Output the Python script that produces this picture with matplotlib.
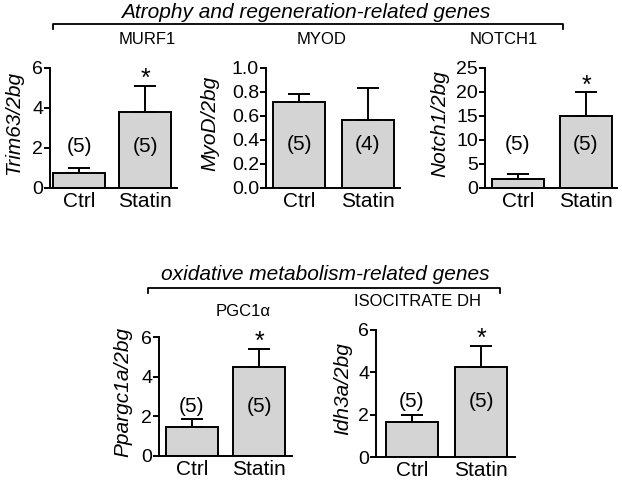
import matplotlib
matplotlib.use("Agg")
import matplotlib.pyplot as plt
from matplotlib.lines import Line2D

plt.rcParams['font.family'] = ['Liberation Sans', 'DejaVu Sans']

groups = ["Ctrl", "Statin"]
genes = ["MURF1", "MYOD", "NOTCH1", "PGC1\u03b1", "ISOCITRATE DH"]
ylabels = ["Trim63/2bg", "MyoD/2bg", "Notch1/2bg", "Ppargc1a/2bg", "Idh3a/2bg"]
ctrl_mean = [0.77, 0.72, 1.8, 1.45, 1.66]
ctrl_sem = [0.21, 0.067, 1.2, 0.42, 0.34]
statin_mean = [3.82, 0.57, 15.1, 4.51, 4.24]
statin_sem = [1.28, 0.26, 4.8, 0.89, 1.02]
ctrl_n = [5, 5, 5, 5, 5]
statin_n = [5, 4, 5, 5, 5]
signif = [False, False, False, False, False]
signif = [True, False, True, True, True]
ymax = [6, 1.0, 25, 6, 6]
ystep = [2, 0.2, 5, 2, 2]
group_titles = ["Atrophy and regeneration-related genes",
                "oxidative metabolism-related genes"]

W, H = 622, 484
# axis left x, axis right x, top y, bottom y, ctrl centre, statin centre (pixels)
boxes = [
    (50, 177, 68, 188, 79, 145),
    (266, 400, 68, 188, 299, 368),
    (485, 617, 68, 188, 518, 586),
    (159, 292, 337, 456, 192, 259),
    (376, 515, 330, 457, 412, 481),
]
ylab_x = [14, 210, 440, 123, 343]
n_y = [2.05, 0.36, 9.0, 2.5, 2.6]   # height of the (n) labels, data units
gene_pos = [(147, 40), (322, 40), (504, 40), (243, 312), (417, 301)]
# text x, text y, bracket x0, x1, bracket y
brackets = [(306, 13, 53, 563, 24), (325, 275, 148, 500, 288)]

fig = plt.figure(figsize=(W / 100, H / 100), dpi=100)

for i in range(5):
    x0, x1, yt, yb, c0, c1 = boxes[i]
    ax = fig.add_axes([x0 / W, 1 - yb / H, (x1 - x0) / W, (yb - yt) / H])
    s = c1 - c0
    ax.set_xlim(-(c0 - x0) / s, 1 + (x1 - c1) / s)
    ax.set_ylim(0, ymax[i])
    bw = 52 / s
    means = [ctrl_mean[i], statin_mean[i]]
    ax.bar([0, 1], means, width=bw, color='#d4d4d4', edgecolor='black',
           linewidth=1.4, zorder=2)
    ax.errorbar([0, 1], means, yerr=[[0, 0], [ctrl_sem[i], statin_sem[i]]],
                fmt='none', ecolor='black', elinewidth=1.4, capsize=8,
                capthick=1.4, zorder=3)

    ticks = [k * ystep[i] for k in range(int(round(ymax[i] / ystep[i])) + 1)]
    ax.set_yticks(ticks)
    if ystep[i] < 1:
        ax.set_yticklabels(["%.1f" % t for t in ticks])
    else:
        ax.set_yticklabels(["%d" % t for t in ticks])
    ax.set_xticks([0, 1])
    ax.set_xticklabels(groups)
    ax.tick_params(axis='y', length=4, width=1.4, labelsize=14, pad=1)
    ax.tick_params(axis='x', length=0, labelsize=15, pad=3)
    for sp in ['top', 'right']:
        ax.spines[sp].set_visible(False)
    for sp in ['left', 'bottom']:
        ax.spines[sp].set_linewidth(1.4)

    ax.set_ylabel(ylabels[i], fontsize=15, style='italic')
    ax.yaxis.label.set_va('center')
    ax.yaxis.set_label_coords((ylab_x[i] - x0) / (x1 - x0), 0.54)

    ax.text(0, n_y[i], "(%d)" % ctrl_n[i], ha='center', va='center', fontsize=15)
    ax.text(1, n_y[i], "(%d)" % statin_n[i], ha='center', va='center', fontsize=15)
    if signif[i]:
        ax.annotate('*', (1, statin_mean[i] + statin_sem[i]), xytext=(0, 0),
                    textcoords='offset points', ha='center', va='baseline',
                    fontsize=18)

    gx, gy = gene_pos[i]
    fig.text(gx / W, 1 - gy / H, genes[i], ha='center', va='center', fontsize=12)

for k in range(2):
    tx, ty, bx0, bx1, by = brackets[k]
    fig.text(tx / W, 1 - ty / H, group_titles[k], ha='center', va='center',
             fontsize=15, style='italic')
    fig.add_artist(Line2D([bx0 / W, bx0 / W, bx1 / W, bx1 / W],
                          [1 - (by + 5) / H, 1 - by / H, 1 - by / H, 1 - (by + 5) / H],
                          color='black', lw=1.3))

fig.savefig('out.png', dpi=100)
